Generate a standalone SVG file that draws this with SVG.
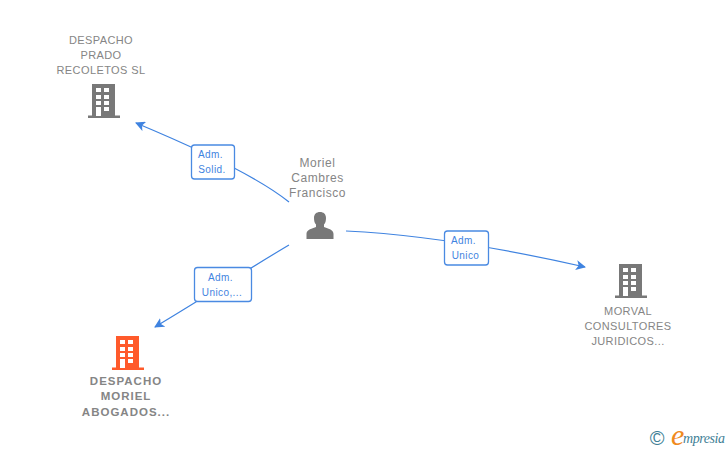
<svg xmlns="http://www.w3.org/2000/svg" width="728" height="450" viewBox="0 0 728 450">
<style>
text{font-family:"Liberation Sans",Arial,sans-serif;text-anchor:middle}
.n{font-size:11px;fill:#858585;letter-spacing:.4px}
.p{font-size:12px;fill:#858585;letter-spacing:.55px}
.b{font-size:11.500px;font-weight:bold;fill:#858585;letter-spacing:1px}
.e{fill:none;stroke:#3f83e0;stroke-width:1.200}
.box{fill:#fff;stroke:#4a8ae2;stroke-width:1.300}
.l{font-size:10px;fill:#3f83e0;letter-spacing:.4px}
.bg{fill:#787878}.bo{fill:#ff5a2b}.w{fill:#fff}
.logo{font-family:"Liberation Serif",serif;font-style:italic;text-anchor:start}
</style>
<defs>
<marker id="a" markerWidth="11" markerHeight="10" refX="9" refY="5" orient="auto" markerUnits="userSpaceOnUse"><path d="M0 0L10 5L0 10L2.500 5Z" fill="#3f83e0"/></marker>
<g id="bld">
<rect x="-12" y="-17" width="23" height="32"/><rect x="-16" y="14.500" width="32" height="2.500"/>
<g class="w"><rect x="-8" y="-13" width="5" height="4"/><rect x="0" y="-13" width="5" height="4"/><rect x="-8" y="-6" width="5" height="4"/><rect x="0" y="-6" width="5" height="4"/><rect x="-8" y="0" width="5" height="4"/><rect x="0" y="0" width="5" height="4"/><rect x="-8" y="6" width="5" height="9"/><rect x="0" y="6" width="5" height="4"/></g>
</g>
</defs>
<g id="connectors">
<path class="e" marker-end="url(#a)" d="M289 202C262 180 215 156 136 123"/>
<path class="e" marker-end="url(#a)" d="M289 245C250 268 205 297 155 327"/>
<path class="e" marker-end="url(#a)" d="M346 231C430 235 510 250 585 267"/>
</g>
<g id="label-solid"><rect class="box" x="191.500" y="145" width="43" height="34" rx="3"/><text class="l" x="210.500" y="158">Adm.</text><text class="l" x="212" y="173">Solid.</text></g>
<g id="label-unico2"><rect class="box" x="194.500" y="267.500" width="57" height="34" rx="3"/><text class="l" x="220.500" y="281">Adm.</text><text class="l" x="222" y="296">Unico,...</text></g>
<g id="label-unico"><rect class="box" x="444.500" y="231" width="44" height="34" rx="3"/><text class="l" x="463.500" y="244">Adm.</text><text class="l" x="465.500" y="259">Unico</text></g>
<g id="node-prado"><use href="#bld" class="bg" x="104" y="101"/><text class="n" x="101" y="44">DESPACHO</text><text class="n" x="101" y="59">PRADO</text><text class="n" x="101" y="74">RECOLETOS SL</text></g>
<g id="node-moriel"><use href="#bld" class="bo" x="128" y="353"/><text class="b" x="126" y="385">DESPACHO</text><text class="b" x="126" y="400">MORIEL</text><text class="b" x="126" y="416">ABOGADOS...</text></g>
<g id="node-morval"><use href="#bld" class="bg" x="631" y="281"/><text class="n" x="628" y="315">MORVAL</text><text class="n" x="628" y="330">CONSULTORES</text><text class="n" x="628" y="345">JURIDICOS...</text></g>
<g id="node-person"><path class="bg" d="M306.500 239V234C306.500 231 309 229.500 312 228.500L316 227V224.500C314.500 223 314 220.500 314 218C314 214 316.500 212 320 212C323.500 212 326 214 326 218C326 220.500 325.500 223 324 224.500V227L328 228.500C331 229.500 333.500 231 333.500 234V239Z"/><text class="p" x="317.500" y="167">Moriel</text><text class="p" x="317.500" y="182">Cambres</text><text class="p" x="317.500" y="197">Francisco</text></g>
<g id="logo"><text x="657" y="445" font-size="20" style="fill:#3f7f96">©</text><text class="logo" x="671" y="445" font-size="30" style="fill:#f08a1d">e</text><text class="logo" x="683" y="443" font-size="14" style="fill:#3f7f96" textLength="42">mpresia</text></g>
</svg>
